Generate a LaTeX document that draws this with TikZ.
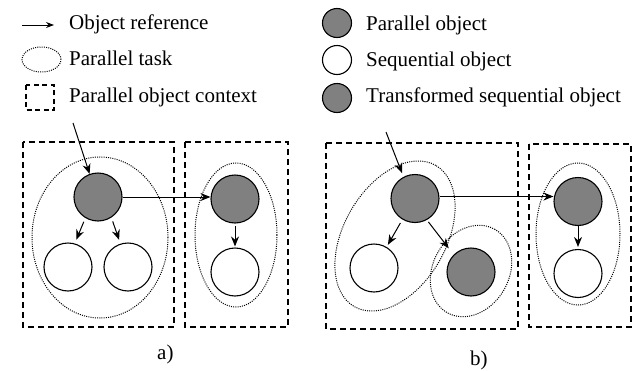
\documentclass[tikz,border=0pt]{standalone}
\usepackage{fontspec}
\setmainfont{Liberation Serif}
\usetikzlibrary{arrows.meta}
\definecolor{objgray}{RGB}{128,128,128}
\tikzset{
  lbl/.style={anchor=base west,inner sep=0pt,font=\fontsize{21}{25}\selectfont},
  pobj/.style={circle,draw,line width=1.1pt,fill=objgray,minimum size=48pt,inner sep=0pt},
  sobj/.style={circle,draw,line width=1.1pt,fill=white,minimum size=48pt,inner sep=0pt},
  lgpobj/.style={circle,draw,line width=1.1pt,fill=objgray,minimum size=29pt,inner sep=0pt},
  lgsobj/.style={circle,draw,line width=1.1pt,fill=white,minimum size=29pt,inner sep=0pt},
  ctx/.style={draw,dashed,line width=1.5pt,dash pattern=on 6pt off 4pt},
  task/.style={draw,line width=1pt,dash pattern=on 1pt off 1.2pt},
  arr/.style={-{Stealth[length=10pt,width=8pt]},line width=1pt},
}
\begin{document}
\begin{tikzpicture}[x=1pt,y=1pt]
\useasboundingbox (0,0) rectangle (638,-370);
% legend left
\coordinate (la1) at (22,-25);
\coordinate (la2) at (54,-25);
\draw[-{Stealth[length=8pt,width=6pt]},line width=1pt] (la1) -- (la2);
\node[lbl] (l1) at (69,-29) {Object reference};
\draw[task] (41.5,-59.5) ellipse [x radius=19.5, y radius=12.5];
\node[lbl] (l2) at (69,-65) {Parallel task};
\draw[ctx,dash pattern=on 5pt off 3.5pt] (26,-85) rectangle (54,-110);
\node[lbl] (l3) at (69,-102) {Parallel object context};
% legend right
\node[lgpobj] (lp) at (337,-23) {};
\node[lbl] (l4) at (366,-30) {Parallel object};
\node[lgsobj] (ls) at (337,-60) {};
\node[lbl] (l5) at (366,-66) {Sequential object};
\node[lgpobj] (lt) at (337,-98) {};
\node[lbl] (l6) at (366,-102) {Transformed sequential object};

% ---------- a) ----------
\draw[ctx] (23,-142) rectangle (174,-327);
\draw[ctx] (185,-142) rectangle (288,-327);
\draw[task] (100,-237.5) ellipse [x radius=68, y radius=80.5];
\draw[task] (236,-235) ellipse [x radius=41, y radius=72];
\node[pobj] (ga) at (98,-197) {};
\node[sobj] (wa1) at (68,-267) {};
\node[sobj] (wa2) at (128,-267) {};
\node[pobj] (gra) at (235,-199) {};
\node[sobj] (wra) at (235,-272) {};
\coordinate (ina) at (73,-123);
\draw[arr] (ina) -- (ga.110);
\draw[arr,shorten <=4pt,shorten >=4pt] (ga.-121) -- (wa1.74);
\draw[arr,shorten <=4pt,shorten >=4pt] (ga.-57) -- (wa2.108);
\draw[arr] (ga.east) -- (ga.east -| gra.west);
\draw[arr,shorten <=2pt,shorten >=1pt] (gra.south) -- (wra.north);
\node[lbl] (capa) at (157,-359) {a)};

% ---------- b) ----------
\draw[ctx] (326,-143) rectangle (518,-329);
\draw[ctx] (529,-144) rectangle (631,-327);
\draw[task,rotate around={60:(395,-236)}] (395,-236) ellipse [x radius=81.5, y radius=51];
\draw[task,rotate around={60:(471,-271)}] (471,-271) ellipse [x radius=48, y radius=38];
\draw[task] (578,-234) ellipse [x radius=42, y radius=71];
\node[pobj] (gb) at (415,-198.5) {};
\node[sobj] (wb) at (374,-268) {};
\node[pobj] (tb) at (471,-272) {};
\node[pobj] (grb) at (578,-201.5) {};
\node[sobj] (wrb) at (578,-273.5) {};
\coordinate (inb) at (386,-132);
\draw[arr,shorten >=4pt] (inb) -- (gb.118);
\draw[arr,shorten <=4pt,shorten >=2.5pt] (gb.-121) -- (wb.59);
\draw[arr,shorten <=2.5pt,shorten >=8pt] (gb.-61) -- (tb.135);
\draw[arr] ([yshift=2pt]gb.east) -- ([yshift=2pt]gb.east -| grb.west);
\draw[arr,shorten >=2pt] (grb.south) -- (wrb.north);
\node[lbl] (capb) at (470,-365) {b)};
\end{tikzpicture}
\end{document}
